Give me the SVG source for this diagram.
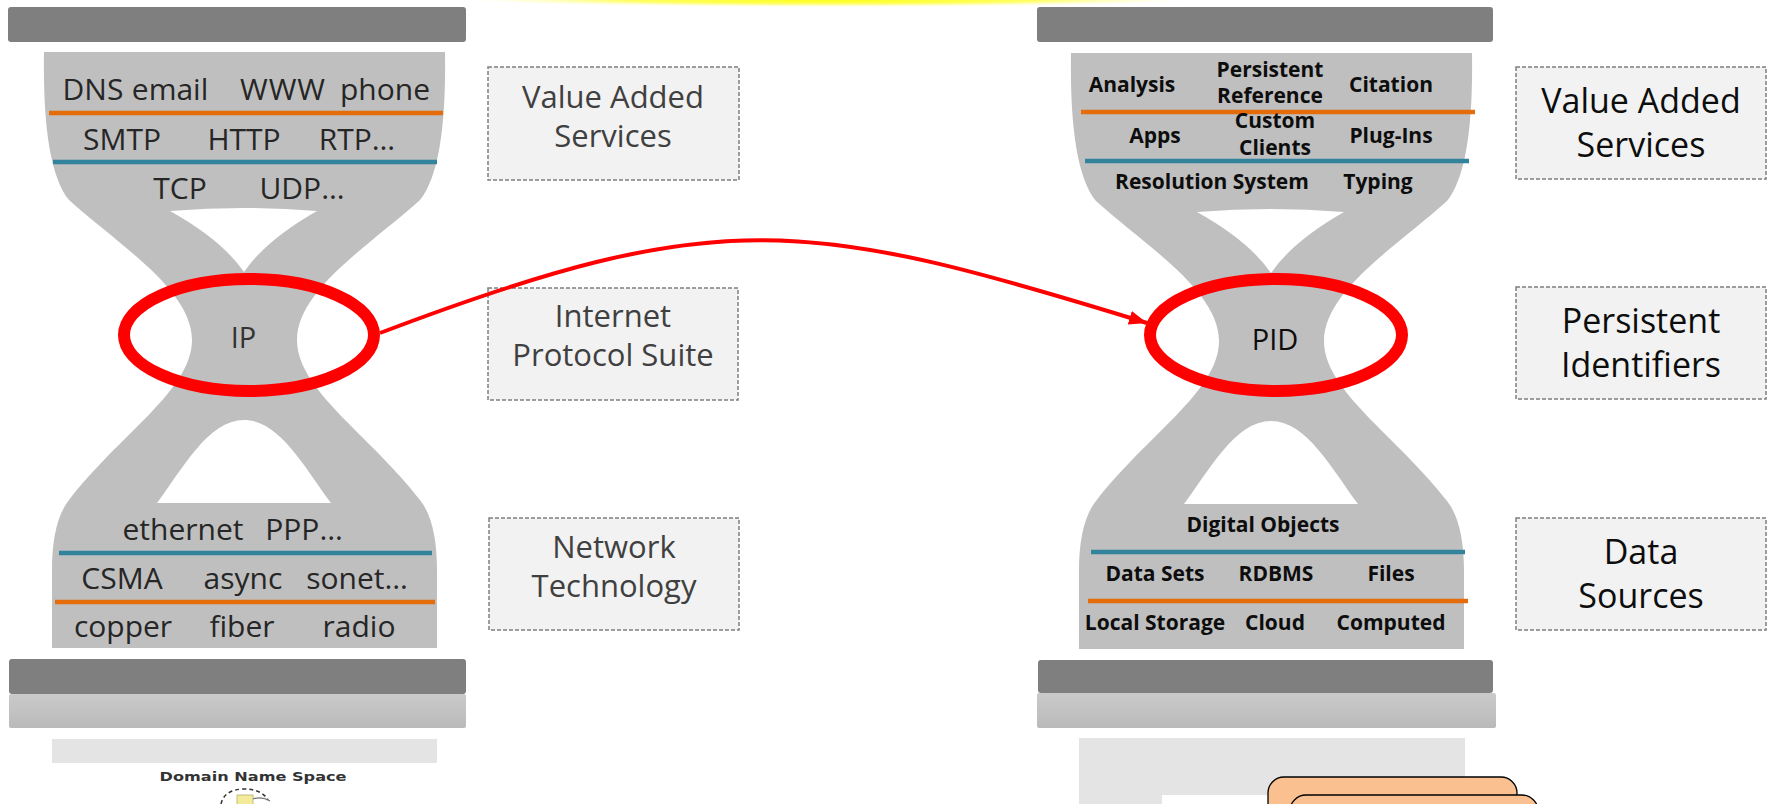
<svg xmlns="http://www.w3.org/2000/svg" width="1777" height="804" viewBox="0 0 1777 804">
<defs>
<style>
.bar{fill:#7f7f7f}
.bar2{fill:url(#gbar)}
.pale{fill:#e4e4e4}
.hg{fill:#bfbfbf}
.hole{fill:#ffffff}
.orange{stroke:#e46c0a;stroke-width:4.5;fill:none}
.teal{stroke:#31849b;stroke-width:4.5;fill:none}
.lt{font-family:"Open Sans","Liberation Sans",sans-serif;font-size:30px;fill:#262626;text-anchor:middle}
.rt{font-family:"Open Sans","Liberation Sans",sans-serif;font-size:21px;font-weight:700;fill:#0d0d0d;text-anchor:middle}
.box{fill:#f2f2f2;stroke:#7f7f7f;stroke-width:1.5;stroke-dasharray:4 2}
.bl{font-family:"Open Sans","Liberation Sans",sans-serif;font-size:31px;fill:#404040;text-anchor:middle}
.br{font-family:"Open Sans","Liberation Sans",sans-serif;font-size:34px;fill:#0d0d0d;text-anchor:middle}
.ring{fill:none;stroke:#ff0000;stroke-width:12}
.conn{fill:none;stroke:#ff0000;stroke-width:4}
.card{fill:#fac090;stroke:#000;stroke-width:1.3}
</style>
<linearGradient id="gbar" x1="0" y1="0" x2="0" y2="1">
<stop offset="0" stop-color="#cacaca"/>
<stop offset="1" stop-color="#bababa"/>
</linearGradient>
<radialGradient id="glow" cx="0.5" cy="0.5" r="0.5">
<stop offset="0" stop-color="#ffff00" stop-opacity="1"/>
<stop offset="0.6" stop-color="#ffff20" stop-opacity="0.7"/>
<stop offset="1" stop-color="#ffff80" stop-opacity="0"/>
</radialGradient>
<g id="hgshape">
<path class="hg" d="M44,52 L445,52 C446,120 440,175 420,200 C370,245 297,290 297,340 C297,390 370,435 420,500 C432,515 437,540 437,570 L437,648 L52,648 L52,570 C52,540 57,515 69,500 C119,435 192,390 192,340 C192,290 119,245 69,200 C49,175 43,120 44,52 Z"/>
<path class="hole" d="M170,211 Q244,205 317,211 Q266,240 244,272 Q222,240 170,211 Z"/>
<path class="hole" d="M157,503 C182,470 208,420 244,420 C280,420 306,470 331,503 Z"/>
</g>
<marker id="ah" markerUnits="userSpaceOnUse" markerWidth="20" markerHeight="16" refX="18" refY="7" orient="auto">
<path d="M0,0 L18,7 L0,14 Z" fill="#ff0000"/>
</marker>
</defs>

<rect width="1777" height="804" fill="#ffffff"/>
<ellipse cx="830" cy="-1" rx="360" ry="8" fill="url(#glow)"/>

<g id="left-stack">
<rect class="bar" x="8" y="7" width="458" height="35" rx="3"/>
<use href="#hgshape"/>
<line class="orange" x1="49" y1="113" x2="443" y2="113"/>
<line class="teal" x1="53" y1="162" x2="437" y2="162"/>
<text class="lt" x="93" y="100">DNS</text>
<text class="lt" x="170" y="100">email</text>
<text class="lt" x="283" y="100" letter-spacing="1">WWW</text>
<text class="lt" x="385" y="100">phone</text>
<text class="lt" x="122" y="150">SMTP</text>
<text class="lt" x="244" y="150">HTTP</text>
<text class="lt" x="357" y="150">RTP…</text>
<text class="lt" x="180" y="199">TCP</text>
<text class="lt" x="302" y="199">UDP…</text>
<text class="lt" x="183" y="540">ethernet</text>
<text class="lt" x="304" y="540">PPP…</text>
<line class="teal" x1="59" y1="553" x2="432" y2="553"/>
<text class="lt" x="122" y="589">CSMA</text>
<text class="lt" x="243" y="589">async</text>
<text class="lt" x="357" y="589">sonet…</text>
<line class="orange" x1="55" y1="602" x2="435" y2="602"/>
<text class="lt" x="123" y="637">copper</text>
<text class="lt" x="242" y="637">fiber</text>
<text class="lt" x="359" y="637">radio</text>
<rect class="bar" x="9" y="659" width="457" height="35" rx="3"/>
<rect class="bar2" x="9" y="694" width="457" height="34" rx="2"/>
<rect class="pale" x="52" y="739" width="385" height="24"/>
</g>

<g id="left-ip">
<text x="243.5" y="348" style="font-family:'Open Sans','Liberation Sans',sans-serif;font-size:29px;fill:#333;text-anchor:middle">IP</text>
</g>

<g id="dns-fragment">
<text x="253" y="781" textLength="187" lengthAdjust="spacingAndGlyphs" style="font-family:'DejaVu Sans',sans-serif;font-size:12.5px;font-weight:700;fill:#333;text-anchor:middle">Domain Name Space</text>
<path d="M221,804 Q224,790 243,789 Q262,789 268,800" fill="none" stroke="#333" stroke-width="1.5" stroke-dasharray="4 3"/>
<rect x="237" y="795" width="16" height="10" fill="#f3eb9a" stroke="#b8b070" stroke-width="0.8"/>
<path d="M253,799 Q262,796 270,801" fill="none" stroke="#777" stroke-width="1.2"/>
</g>

<g id="right-stack">
<rect class="bar" x="1037" y="7" width="456" height="35" rx="3"/>
<use href="#hgshape" transform="translate(1027,1)"/>
<line class="orange" x1="1081" y1="112" x2="1475" y2="112"/>
<line class="teal" x1="1085" y1="161" x2="1469" y2="161"/>
<text class="rt" x="1132" y="92">Analysis</text>
<text class="rt" x="1270" y="77">Persistent</text>
<text class="rt" x="1270" y="103">Reference</text>
<text class="rt" x="1391" y="92">Citation</text>
<text class="rt" x="1155" y="143">Apps</text>
<text class="rt" x="1275" y="128">Custom</text>
<text class="rt" x="1275" y="155">Clients</text>
<text class="rt" x="1391" y="143">Plug-Ins</text>
<text class="rt" x="1212" y="189">Resolution System</text>
<text class="rt" x="1378" y="189">Typing</text>
<text class="rt" x="1263" y="532">Digital Objects</text>
<line class="teal" x1="1091" y1="552" x2="1465" y2="552"/>
<text class="rt" x="1155" y="581">Data Sets</text>
<text class="rt" x="1276" y="581">RDBMS</text>
<text class="rt" x="1391" y="581">Files</text>
<line class="orange" x1="1088" y1="601" x2="1468" y2="601"/>
<text class="rt" x="1155" y="630">Local Storage</text>
<text class="rt" x="1275" y="630">Cloud</text>
<text class="rt" x="1391" y="630">Computed</text>
<rect class="bar" x="1038" y="660" width="455" height="33" rx="3"/>
<rect class="bar2" x="1037" y="693" width="459" height="35" rx="2"/>
<path class="pale" d="M1079,738 L1465,738 L1465,804 L1079,804 Z"/>
<rect x="1162" y="795" width="120" height="9" fill="#ffffff"/>
<rect class="card" x="1268" y="777" width="249" height="60" rx="16"/>
<rect class="card" x="1290" y="795" width="248" height="60" rx="16"/>
</g>

<g id="right-pid">
<text x="1275" y="350" style="font-family:'Open Sans','Liberation Sans',sans-serif;font-size:29px;fill:#0d0d0d;text-anchor:middle">PID</text>
</g>

<g id="label-value-added-left">
<rect class="box" x="488" y="67" width="251" height="113"/>
<text class="bl" x="613" y="108">Value Added</text>
<text class="bl" x="613" y="147">Services</text>
</g>
<g id="label-ip-suite">
<rect class="box" x="488" y="288" width="250" height="112"/>
<text class="bl" x="613" y="327">Internet</text>
<text class="bl" x="613" y="366">Protocol Suite</text>
</g>
<g id="label-network">
<rect class="box" x="489" y="518" width="250" height="112"/>
<text class="bl" x="614" y="558">Network</text>
<text class="bl" x="614" y="597">Technology</text>
</g>
<g id="label-value-added-right">
<rect class="box" x="1516" y="67" width="250" height="112"/>
<text class="br" x="1641" y="113">Value Added</text>
<text class="br" x="1641" y="157">Services</text>
</g>
<g id="label-pid">
<rect class="box" x="1516" y="287" width="250" height="112"/>
<text class="br" x="1641" y="333">Persistent</text>
<text class="br" x="1641" y="377">Identifiers</text>
</g>
<g id="label-data">
<rect class="box" x="1516" y="518" width="250" height="112"/>
<text class="br" x="1641" y="564">Data</text>
<text class="br" x="1641" y="608">Sources</text>
</g>

<g id="ring-ip"><ellipse class="ring" cx="249" cy="335" rx="125" ry="56"/></g>
<g id="ring-pid"><ellipse class="ring" cx="1276" cy="335" rx="126" ry="56"/></g>

<g id="connectors">
<path class="conn" d="M380,333 C720,204 807,218 1147,323" marker-end="url(#ah)"/>
</g>
</svg>
